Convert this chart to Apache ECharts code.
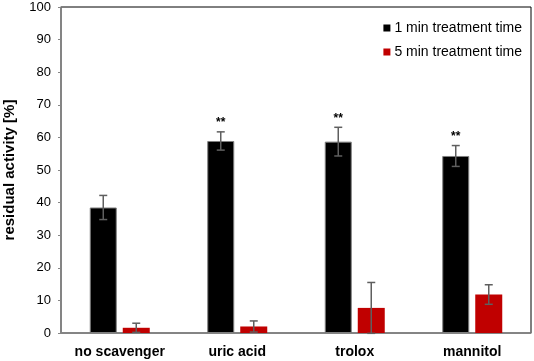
<!DOCTYPE html>
<html>
<head>
<meta charset="utf-8">
<script src="https://cdn.jsdelivr.net/npm/echarts@6/dist/echarts.min.js"></script>
<style>
html,body{margin:0;padding:0;background:#fff;}
#main{width:534px;height:361px;}
</style>
</head>
<body>
<div id="main"></div>
<script>
// values
var categories=["no scavenger","uric acid","trolox","mannitol"];
var oneMin=[38.5,58.9,58.7,54.3];
var oneMinErr=[3.7,2.8,4.4,3.2];
var fiveMin=[1.6,2.0,7.7,11.8];
var fiveMinErr=[1.4,1.7,7.8,3.0];
var stars=["","**","**","**"];
var yTicks=[0,10,20,30,40,50,60,70,80,90,100];

var barW=27,barGap=6;

//误差线，offset是柱子中心相对类目中心的偏移
function errorSeries(name,vals,errs,offset,marks){
    var data=[];
    for(var i=0;i<vals.length;i++){
        data.push([i,vals[i]-errs[i],vals[i]+errs[i],marks?marks[i]:""]);
    }
    return {
        type:"custom",
        name:name+"_err",
        z:10,
        data:data,
        renderItem:function(params,api){
            var x=api.coord([api.value(0),0])[0]+offset;
            var lo=api.coord([api.value(0),api.value(1)]);
            var hi=api.coord([api.value(0),api.value(2)]);
            var cap=4;
            var st={stroke:"#5f5f5f",lineWidth:1.5};
            var kids=[
                {type:"line",shape:{x1:x,y1:hi[1],x2:x,y2:lo[1]},style:st},
                {type:"line",shape:{x1:x-cap,y1:hi[1],x2:x+cap,y2:hi[1]},style:st},
                {type:"line",shape:{x1:x-cap,y1:lo[1],x2:x+cap,y2:lo[1]},style:st}
            ];
            var txt=api.value(3);
            if(txt){
                kids.push({type:"text",style:{text:txt,x:x,y:hi[1]-3,align:"center",verticalAlign:"bottom",
                    fill:"#000",font:"bold 12px 'Liberation Sans', Arial"}});
            }
            return {type:"group",children:kids};
        }
    };
}

var myChart=echarts.init(document.getElementById("main"));
var option={
    animation:false,
    textStyle:{fontFamily:"'Liberation Sans', Arial"},
    grid:{left:61,right:3,top:7,bottom:28,outerBoundsMode:"none",containLabel:false,
        show:true,borderColor:"#000",borderWidth:1},
    legend:{
        orient:"vertical",
        right:7,
        top:16,
        icon:"rect",
        itemWidth:7,
        itemHeight:7,
        itemGap:10,
        data:["1 min treatment time","5 min treatment time"],
        itemStyle:{borderWidth:0},
        textStyle:{fontSize:14,color:"#000",padding:[0,0,0,-1]}
    },
    xAxis:{
        type:"category",
        data:categories,
        axisLine:{lineStyle:{color:"#868686",width:1.5}},
        axisTick:{show:false},
        axisLabel:{fontSize:14,fontWeight:"bold",color:"#000",margin:12}
    },
    yAxis:{
        type:"value",
        min:0,
        max:100,
        interval:10,
        name:"residual activity [%]",
        nameLocation:"middle",
        nameGap:44,
        nameTextStyle:{fontSize:15,fontWeight:"bold",color:"#000"},
        axisLine:{show:true,lineStyle:{color:"#868686",width:1.5}},
        axisTick:{show:true,length:3,lineStyle:{color:"#868686"}},
        splitLine:{show:false},
        axisLabel:{fontSize:13,color:"#000",margin:10,formatter:function(v){return yTicks.indexOf(v)>=0?String(v):"";}}
    },
    series:[
        {
            name:"1 min treatment time",
            type:"bar",
            data:oneMin,
            barWidth:barW,
            barGap:(barGap/barW*100)+"%",
            itemStyle:{color:"#000",borderColor:"#7f7f7f",borderWidth:1}
        },
        {
            name:"5 min treatment time",
            type:"bar",
            data:fiveMin,
            barWidth:barW,
            itemStyle:{color:"#c00000"}
        },
        errorSeries("1 min",oneMin,oneMinErr,-(barW+barGap)/2,stars),
        errorSeries("5 min",fiveMin,fiveMinErr,(barW+barGap)/2,null)
    ]
};
myChart.setOption(option);
</script>
</body>
</html>
